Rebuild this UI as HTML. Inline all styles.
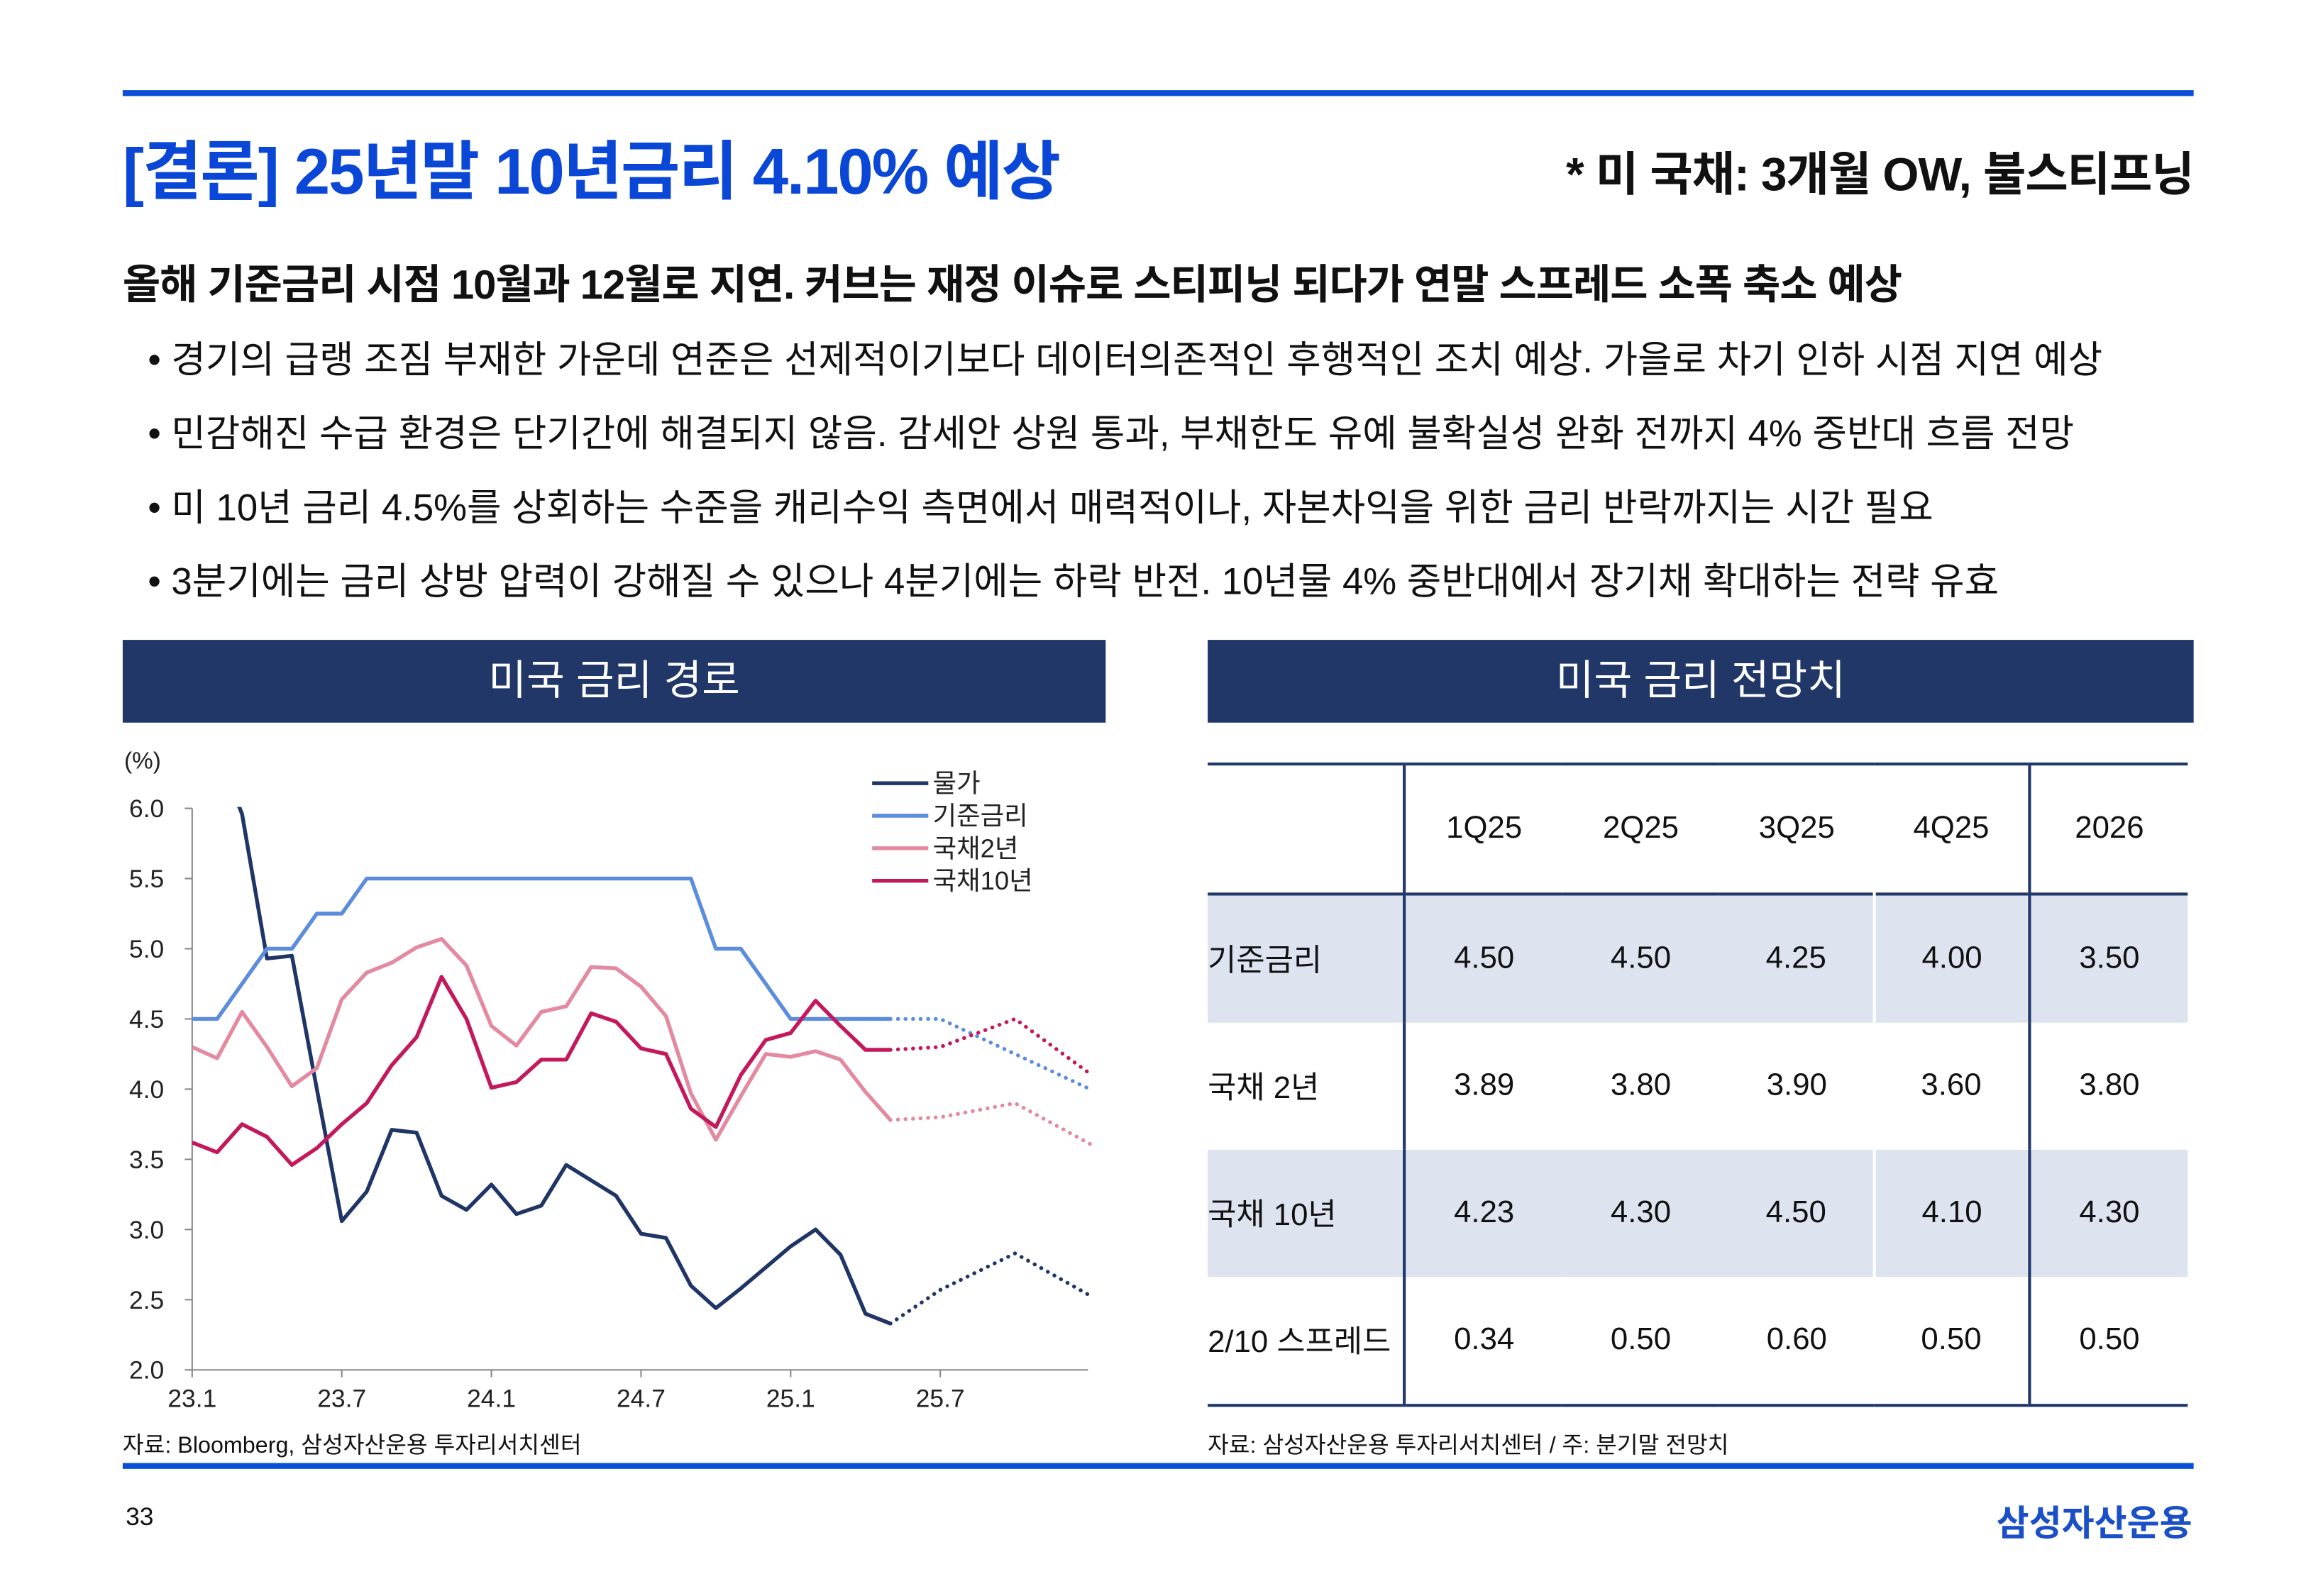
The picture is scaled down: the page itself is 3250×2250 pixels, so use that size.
<!DOCTYPE html>
<html><head><meta charset="utf-8"><style>
html,body{margin:0;padding:0;background:#fff;}
body{width:3250px;height:2250px;overflow:hidden;}
#page{position:absolute;left:0;top:0;width:1560px;height:1080px;transform:scale(2.08333);transform-origin:0 0;font-family:"Liberation Sans","Noto Sans CJK KR",sans-serif;color:#111;}
.abs{position:absolute;white-space:nowrap;}
.bul{font-size:25.3px;left:100px;}
.ph{position:absolute;background:#203768;color:#fff;font-size:28px;text-align:center;line-height:56px;height:56px;top:433px;}
table{border-collapse:collapse;position:absolute;left:817px;top:516px;width:663px;font-size:21px;table-layout:fixed;}
td{height:86px;text-align:center;padding:0;}
td.l{text-align:left;}
tr.s td{background:#dde3ef;}
</style></head><body>
<div id="page">
<div class="abs" style="left:83px;top:61px;width:1401px;height:4px;background:#0a4fd8"></div>
<div class="abs" style="left:83px;top:81px;font-size:43.5px;font-weight:bold;color:#0a47d6;letter-spacing:-1px">[결론] 25년말 10년금리 4.10% 예상</div>
<div class="abs" style="right:76px;top:93px;font-size:31.5px;font-weight:bold;letter-spacing:-0.5px">* 미 국채: 3개월 OW, 불스티프닝</div>
<div class="abs" style="left:83px;top:171px;font-size:27.8px;font-weight:bold;letter-spacing:-0.5px">올해 기준금리 시점 10월과 12월로 지연. 커브는 재정 이슈로 스티피닝 되다가 연말 스프레드 소폭 축소 예상</div>
<div class="abs bul" style="top:224px">• 경기의 급랭 조짐 부재한 가운데 연준은 선제적이기보다 데이터의존적인 후행적인 조치 예상. 가을로 차기 인하 시점 지연 예상</div>
<div class="abs bul" style="top:274px">• 민감해진 수급 환경은 단기간에 해결되지 않음. 감세안 상원 통과, 부채한도 유예 불확실성 완화 전까지 4% 중반대 흐름 전망</div>
<div class="abs bul" style="top:324px">• 미 10년 금리 4.5%를 상회하는 수준을 캐리수익 측면에서 매력적이나, 자본차익을 위한 금리 반락까지는 시간 필요</div>
<div class="abs bul" style="top:374px">• 3분기에는 금리 상방 압력이 강해질 수 있으나 4분기에는 하락 반전. 10년물 4% 중반대에서 장기채 확대하는 전략 유효</div>

<div class="ph" style="left:83px;width:665px">미국 금리 경로</div>
<div class="ph" style="left:817px;width:667px">미국 금리 전망치</div>

<svg id="chart" class="abs" style="left:0;top:0" width="760" height="1000" font-family="Liberation Sans, Noto Sans CJK KR, sans-serif"></svg>

<table>
<colgroup><col style="width:133px"><col style="width:107px"><col style="width:106px"><col style="width:105px"><col style="width:105px"><col style="width:107px"></colgroup>
<tr style="border-top:2px solid #203768;border-bottom:2px solid #203768"><td class="l" style="border-right:2px solid #203768"></td><td>1Q25</td><td>2Q25</td><td>3Q25</td><td style="border-right:2px solid #203768">4Q25</td><td>2026</td></tr>
<tr class="s"><td class="l" style="border-right:2px solid #203768">기준금리</td><td>4.50</td><td>4.50</td><td>4.25</td><td style="border-left:2px solid #fff;border-right:2px solid #203768">4.00</td><td>3.50</td></tr>
<tr><td class="l" style="border-right:2px solid #203768">국채 2년</td><td>3.89</td><td>3.80</td><td>3.90</td><td style="border-right:2px solid #203768">3.60</td><td>3.80</td></tr>
<tr class="s"><td class="l" style="border-right:2px solid #203768">국채 10년</td><td>4.23</td><td>4.30</td><td>4.50</td><td style="border-left:2px solid #fff;border-right:2px solid #203768">4.10</td><td>4.30</td></tr>
<tr style="border-bottom:2px solid #203768"><td class="l" style="border-right:2px solid #203768">2/10 스프레드</td><td>0.34</td><td>0.50</td><td>0.60</td><td style="border-right:2px solid #203768">0.50</td><td>0.50</td></tr>
</table>

<div class="abs" style="left:83px;top:966px;font-size:15.5px">자료: Bloomberg, 삼성자산운용 투자리서치센터</div>
<div class="abs" style="left:817px;top:966px;font-size:15.5px">자료: 삼성자산운용 투자리서치센터 / 주: 분기말 전망치</div>
<div class="abs" style="left:83px;top:990px;width:1401px;height:4px;background:#0a4fd8"></div>
<div class="abs" style="left:85px;top:1017px;font-size:17px">33</div>
<div class="abs" style="right:77px;top:1011px;font-size:24px;font-weight:bold;color:#1a4fc8">삼성자산운용</div>
</div>
<script>
const months=[0,1,2,3,4,5,6,7,8,9,10,11,12,13,14,15,16,17,18,19,20,21,22,23,24,25,26,27,28];
const cpi=[6.5,6.4,5.96,4.93,4.95,4.0,3.06,3.27,3.71,3.69,3.24,3.14,3.32,3.11,3.17,3.46,3.35,3.24,2.97,2.94,2.6,2.44,2.58,2.73,2.88,3.0,2.82,2.4,2.33];
const fed=[4.5,4.5,4.75,5.0,5.0,5.25,5.25,5.5,5.5,5.5,5.5,5.5,5.5,5.5,5.5,5.5,5.5,5.5,5.5,5.5,5.5,5.0,5.0,4.75,4.5,4.5,4.5,4.5,4.5];
const ust2=[4.3,4.22,4.55,4.3,4.02,4.15,4.64,4.83,4.9,5.01,5.07,4.88,4.45,4.31,4.55,4.59,4.87,4.86,4.73,4.52,3.97,3.64,3.95,4.25,4.23,4.27,4.21,3.98,3.78];
const ust10=[3.62,3.55,3.75,3.66,3.46,3.58,3.75,3.9,4.17,4.37,4.8,4.5,4.01,4.05,4.21,4.21,4.54,4.48,4.29,4.25,3.86,3.73,4.1,4.35,4.4,4.63,4.45,4.28,4.28];
const fcMonths=[28,30,33,36];
const cpiF=[2.33,2.57,2.83,2.53];
const fedF=[4.5,4.5,4.25,4.0];
const ust2F=[3.78,3.8,3.9,3.61];
const ust10F=[4.28,4.3,4.5,4.11];
const yTicks=[2.0,2.5,3.0,3.5,4.0,4.5,5.0,5.5,6.0];
const xTickMonths=[0,6,12,18,24,30];
const xTickLabels=["23.1","23.7","24.1","24.7","25.1","25.7"];
const legendNames=["물가","기준금리","국채2년","국채10년"];
const colors=["#1f3566","#5b8ddc","#e38aa0","#c4185c"];

const NS="http://www.w3.org/2000/svg";
const svg=document.getElementById('chart');
const X=m=>130+m*16.87;
const Y=v=>547+(6-v)*95;
function mk(t,a){const e=document.createElementNS(NS,t);for(const k in a)e.setAttribute(k,a[k]);svg.appendChild(e);return e;}
const defs=mk('defs',{});
const cp=document.createElementNS(NS,'clipPath');cp.setAttribute('id','plotclip');
const cr=document.createElementNS(NS,'rect');cr.setAttribute('x',130);cr.setAttribute('y',Y(6)-1);cr.setAttribute('width',620);cr.setAttribute('height',Y(2)-Y(6)+2);
cp.appendChild(cr);defs.appendChild(cp);

let t=mk('text',{x:84,y:520,'font-size':16,fill:'#222'});t.textContent='(%)';


const ya=mk('line',{x1:130,y1:Y(6),x2:130,y2:Y(2),stroke:'#888','stroke-width':1});


const xa=mk('line',{x1:130,y1:Y(2),x2:736,y2:Y(2),stroke:'#888','stroke-width':1});


yTicks.forEach(v=>{
  mk('line',{x1:125,y1:Y(v),x2:130,y2:Y(v),stroke:'#888'});
  const l=mk('text',{x:111,y:Y(v)+6,'font-size':17,'text-anchor':'end',fill:'#222'});l.textContent=v.toFixed(1);
  
  
});
xTickMonths.forEach((m,i)=>{
  mk('line',{x1:X(m),y1:Y(2),x2:X(m),y2:Y(2)+5,stroke:'#888'});
  const l=mk('text',{x:X(m),y:Y(2)+25,'font-size':17,'text-anchor':'middle',fill:'#222'});l.textContent=xTickLabels[i];
  
  
});
const series=[[cpi,cpiF,'cpi'],[fed,fedF,'fed-rate'],[ust2,ust2F,'ust-2y'],[ust10,ust10F,'ust-10y']];
series.forEach((s,i)=>{
  const p=mk('polyline',{points:months.map((m,j)=>X(m)+','+Y(s[0][j])).join(' '),fill:'none',stroke:colors[i],'stroke-width':2.6,'stroke-linejoin':'round','clip-path':'url(#plotclip)'});
  
  
  const f=mk('polyline',{points:fcMonths.map((m,j)=>X(m)+','+Y(s[1][j])).join(' '),fill:'none',stroke:colors[i],'stroke-width':2.6,'stroke-dasharray':'0.1 5','stroke-linecap':'round'});
  
  
});
legendNames.forEach((n,i)=>{
  const y=530+i*22;
  const l=mk('line',{x1:590,y1:y,x2:628,y2:y,stroke:colors[i],'stroke-width':2.6});
  
  
  const tx=mk('text',{x:631,y:y+6,'font-size':17.5,fill:'#222'});tx.textContent=n;
  
  
});
</script>
</body></html>
